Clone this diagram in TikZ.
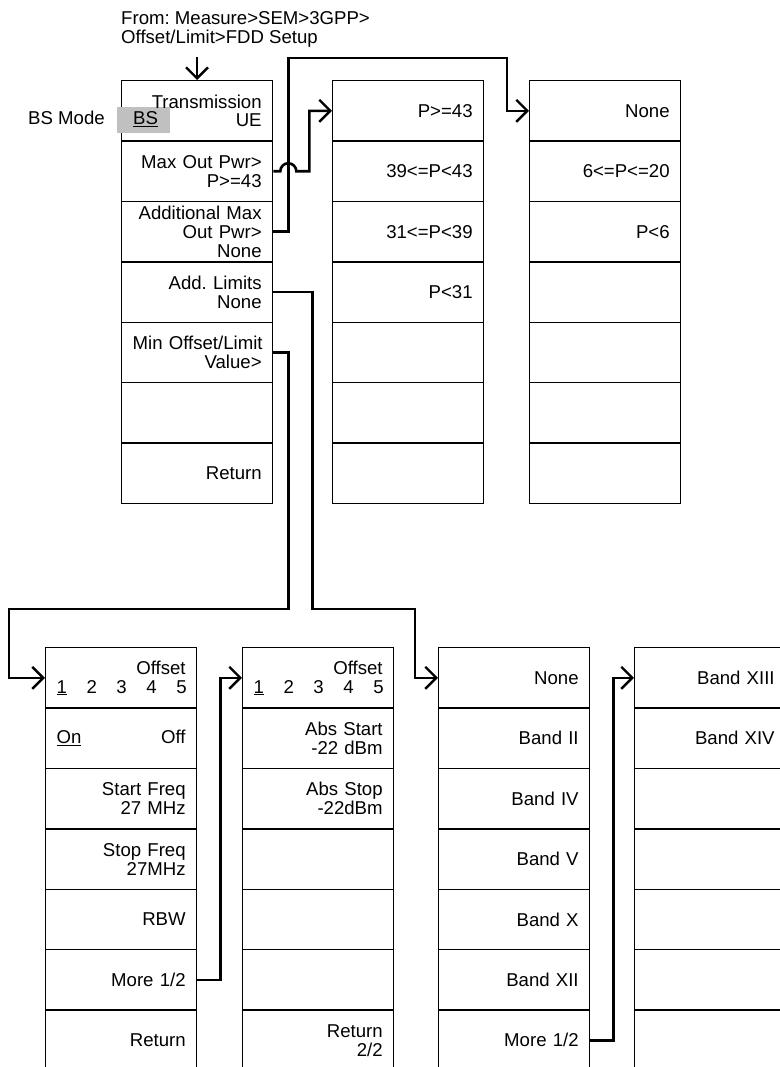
\documentclass[tikz,border=0pt]{standalone}
\usepackage{fontspec}
\setmainfont{Liberation Sans}
\usetikzlibrary{arrows.meta}
\definecolor{selgrey}{RGB}{192,192,192}
\frenchspacing
\begin{document}
\begin{tikzpicture}[x=1pt,y=-1pt,
  every node/.style={font=\fontsize{18.6}{18.9}\selectfont},
  cell/.style={draw,line width=1.3pt,anchor=north west,minimum width=151pt,
    minimum height=60.4pt,text width=129pt,inner xsep=11pt,inner ysep=0pt,align=right},
  conn/.style={line width=2.6pt,line join=miter},
  tip/.style={-{Straight Barb[length=11pt,width=22pt,line width=2.4pt]}},
  plain/.style={inner sep=0pt}]
\useasboundingbox (0,0) rectangle (779,1067);

% header text
\node[plain,anchor=north west,align=left] (from) at (121,11.6)
  {From: Measure>SEM>3GPP>\\Offset/Limit>FDD Setup};
\node[plain,anchor=base west] (bsmode) at (28,125) {BS Mode};

% selection highlight (behind text)
\fill[selgrey] (117,107) rectangle (170,133);

% column A
\foreach \t [count=\i] in {{Transmission\\\hbox to 129pt{\hfill UE}},{Max Out Pwr>\\P>=43},
  {Additional Max\\Out Pwr>\\None},{Add. Limits\\None},{\mbox{Min Offset/Limit}\\Value>},{},{Return}}
  \node[cell] (A\i) at (121,80+60.4*\i-60.4) {\t};
% highlight hides the left border where it overlaps
\fill[selgrey] (117,107) rectangle (126,133);
\node[plain,anchor=base west] (bs) at (133,125) {\underline{BS}};

% column B
\foreach \t [count=\i] in {{P>=43},{39<=P<43},{31<=P<39},{P<31},{},{},{}}
  \node[cell] (B\i) at (332,80+60.4*\i-60.4) {\t};
% column C
\foreach \t [count=\i] in {{None},{6<=P<=20},{P<6},{},{},{},{}}
  \node[cell] (C\i) at (529,80+60.4*\i-60.4) {\t};

% column D
\foreach \t [count=\i] in {{Offset\\\hbox to 130pt{\underline{1}\hfill 2\hfill 3\hfill 4\hfill 5}},
  {\hbox to 129pt{\underline{On}\hfill Off}},{Start Freq\\27 MHz},{Stop Freq\\27MHz},{RBW},{More 1/2},{Return}}
  \node[cell] (D\i) at (45,647+60.4*\i-60.4) {\t};
% column E
\foreach \t [count=\i] in {{Offset\\\hbox to 130pt{\underline{1}\hfill 2\hfill 3\hfill 4\hfill 5}},
  {Abs Start\\-22 dBm},{Abs Stop\\-22dBm},{},{},{},{Return\\2/2}}
  \node[cell] (E\i) at (242,647+60.4*\i-60.4) {\t};
% column F
\foreach \t [count=\i] in {{None},{Band II},{Band IV},{Band V},{Band X},{Band XII},{More 1/2}}
  \node[cell] (F\i) at (438,647+60.4*\i-60.4) {\t};
% column G
\foreach \t [count=\i] in {{Band XIII},{Band XIV},{},{},{},{},{}}
  \node[cell] (G\i) at (634,647+60.4*\i-60.4) {\t};

% corner coordinates
\coordinate (k1) at (507,58);
\coordinate (k2) at (415,609);
\coordinate (k3) at (9,609);
\coordinate (top) at (197,57);

% connectors
\draw[conn,tip] (top) -- (top |- A1.north);
\draw[conn,tip] (A2.east) -- ++(7,0) arc[start angle=180,end angle=0,radius=8pt] -- ++(13,0) |- (B1.west);
\draw[conn,tip] (A3.east) -- ++(15,0) |- (k1) |- (C1.west);
\draw[conn,tip] (A4.east) -- ++(39,0) |- (k2) |- (F1.west);
\draw[conn,tip] (A5.east) -- ++(15,0) |- (k3) |- (D1.west);
\draw[conn,tip] (D6.east) -- ++(23,0) |- (E1.west);
\draw[conn,tip] (F7.east) -- ++(23,0) |- (G1.west);
\end{tikzpicture}
\end{document}
